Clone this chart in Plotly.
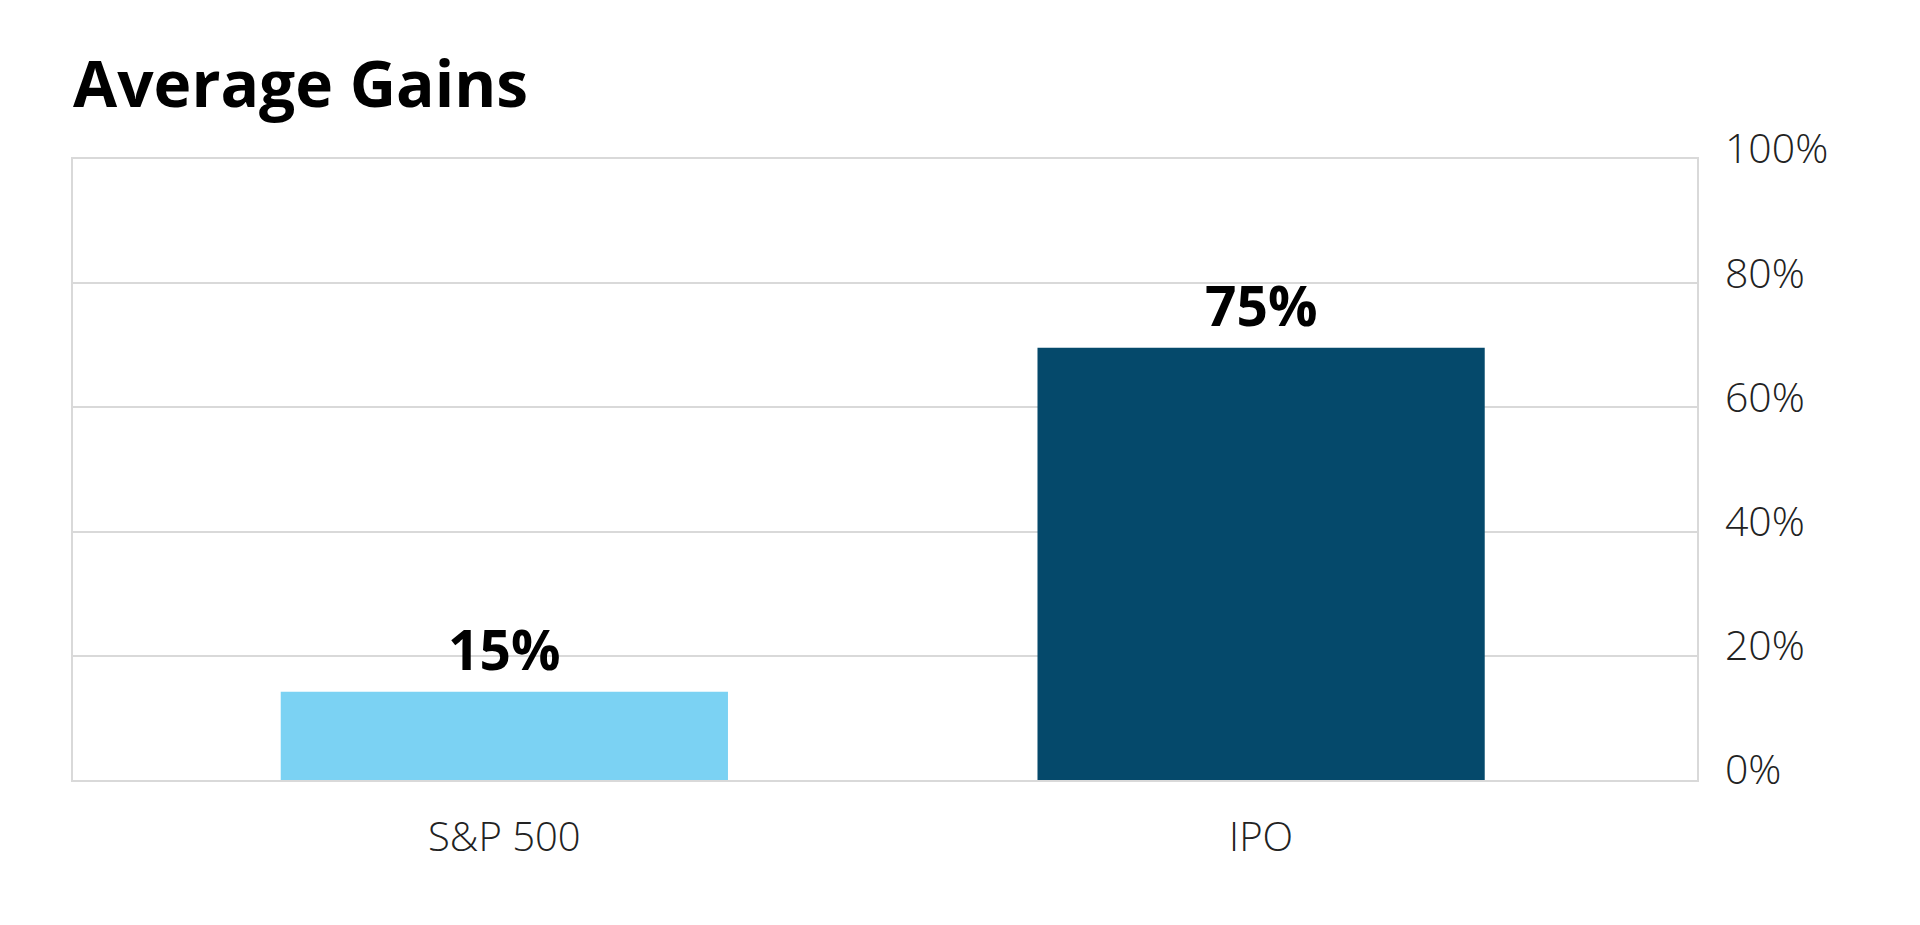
import plotly.graph_objects as go

categories = ["S&P 500", "IPO"]
bar_values = [14.2, 69.6]
value_labels = ["15%", "75%"]
bar_colors = ["#7BD2F3", "#05496B"]
y_ticks = [0, 20, 40, 60, 80, 100]
y_tick_text = ["0%", "20%", "40%", "60%", "80%", "100%"]

TITLE_FONT = "Open Sans"
FONT = "Open Sans"
GRID = "#d9d9d9"

W, H = 1904, 909  # page body has an 8px margin

fig = go.Figure()
fig.add_trace(go.Bar(
    x=categories,
    y=bar_values,
    marker=dict(color=bar_colors, line=dict(width=0)),
    width=0.591,
    hoverinfo="skip",
))

for cat, val, lab in zip(categories, bar_values, value_labels):
    fig.add_annotation(
        x=cat, y=val, text=lab, showarrow=False,
        xref="x", yref="y", yanchor="bottom", yshift=4,
        font=dict(family=TITLE_FONT, size=55, color="#000000", weight="bold"),
    )

fig.update_layout(
    width=W, height=H,
    margin=dict(l=65, r=215, t=151, b=137),
    paper_bgcolor="white", plot_bgcolor="white",
    showlegend=False,
    title=dict(
        text="Average Gains",
        font=dict(family=TITLE_FONT, size=64, color="#000000", weight="bold"),
        xref="paper", x=0, xanchor="left",
        yref="container", y=1 - 77 / H, yanchor="middle",
    ),
    xaxis=dict(
        type="category",
        range=[-0.570, 1.576],
        showgrid=False,
        showline=True, linecolor=GRID, linewidth=1.5, mirror=True,
        ticks="", ticklabelstandoff=21,
        tickfont=dict(family=FONT, size=40, color="#222222", weight=300),
        fixedrange=True,
    ),
    yaxis=dict(
        side="right",
        range=[0, 100],
        tickvals=y_ticks, ticktext=y_tick_text,
        showgrid=True, gridcolor=GRID, gridwidth=1.5,
        showline=True, linecolor=GRID, linewidth=1.5, mirror=True,
        zeroline=False,
        ticks="", ticklabelstandoff=18, ticklabelshift=-10,
        tickfont=dict(family=FONT, size=41, color="#222222", weight=300),
        fixedrange=True,
    ),
)

fig.write_html("out.html")
